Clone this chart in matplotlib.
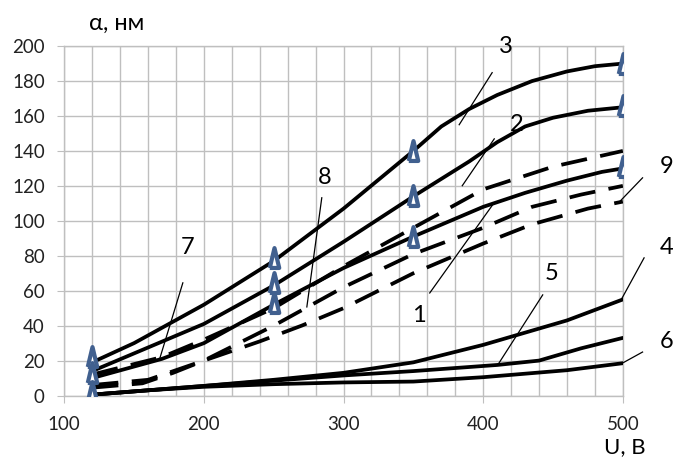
import numpy as np
import matplotlib
matplotlib.use('Agg')
import matplotlib.pyplot as plt
from matplotlib.ticker import MultipleLocator

plt.rcParams['font.family'] = ['Lato', 'Open Sans', 'DejaVu Sans']

# curves 1-3 (solid, with markers), 4-6 (solid, low), 7-9 (dashed)
x1 = [120, 170, 200, 250, 300, 350, 400, 430, 460, 485, 500]
y1 = [10, 21, 30, 52, 73, 91, 108, 116, 123, 128, 130]

x2 = [120, 200, 250, 300, 350, 390, 410, 430, 450, 475, 500]
y2 = [14, 41, 63, 88, 114, 134, 145, 154, 159, 163, 165]

x3 = [120, 150, 200, 250, 300, 350, 370, 390, 410, 435, 460, 480, 500]
y3 = [19, 30, 52, 77, 107, 140, 154, 164, 172, 180, 185.5, 188.5, 190]

x4 = [120, 160, 200, 250, 300, 350, 400, 430, 460, 480, 500]
y4 = [0.5, 3, 5.5, 9, 13, 19, 29, 36, 43, 49, 55]

x5 = [120, 160, 200, 250, 300, 350, 410, 440, 470, 500]
y5 = [0.5, 3, 5.5, 8.5, 11.5, 14, 17.5, 20, 27, 33]

x6 = [120, 160, 200, 250, 300, 350, 400, 460, 500]
y6 = [0.5, 3, 5, 6.5, 7.5, 8, 10.5, 14.5, 18.5]

x7 = [120, 170, 200, 250, 300, 350, 400, 450, 500]
y7 = [12, 22, 32, 50, 74, 96, 118, 131, 140]

x8 = [120, 160, 200, 250, 300, 350, 400, 435, 470, 500]
y8 = [6, 9, 20, 40, 62, 81, 96, 108, 115, 120]

x9 = [120, 156, 178, 200, 240, 270, 300, 350, 400, 435, 475, 500]
y9 = [4.5, 7, 13, 20, 31, 40, 50, 70, 87, 98, 107, 111]

# triangle markers
mx = [120, 250, 350, 500]
mA = [22, 79, 140, 190]
mB = [13, 64.5, 114, 166]
mC = [2, 53, 91, 131]

# curve labels: text, text pos, pointer start, pointer end
labels = ['1', '2', '3', '4', '5', '6', '7', '8', '9']
label_xy = [(354, 46), (424, 155), (416, 200), (531, 85), (449, 70),
            (531, 31), (188.5, 84.5), (286.5, 125), (531, 131)]
ptr_from = [(361.7, 58.7), (407.9, 146.9), (406.4, 184.8), (515.2, 78.8), (442.6, 57.6),
            (514.1, 24.9), (184.9, 64.5), (284.4, 113.2), (514.1, 124.6)]
ptr_to = [(406.8, 109.2), (385, 120.1), (382.8, 155), (498.7, 54.7), (410.4, 17.5),
          (499.8, 18.6), (168.5, 21.5), (273.7, 50.7), (497.6, 110.9)]

fig = plt.figure(figsize=(6.73, 4.61), dpi=100)
ax = fig.add_axes([0.0955, 0.142, 0.830, 0.758])

lw = 2.7
for xs, ys in [(x1, y1), (x2, y2), (x3, y3), (x4, y4), (x5, y5), (x6, y6)]:
    ax.plot(xs, ys, color='black', lw=lw, solid_capstyle='round',
            solid_joinstyle='round', zorder=3)
for xs, ys in [(x7, y7), (x8, y8), (x9, y9)]:
    ax.plot(xs, ys, color='black', lw=lw, dashes=(7, 3.6), zorder=3)

tri = [(-1, -2), (1, -2), (0, 2.2), (-1, -2)]
for ys in [mA, mB, mC]:
    ax.plot(mx, ys, ls='none', marker=tri, markersize=15, markerfacecolor='white',
            markeredgecolor='#41608f', markeredgewidth=3, zorder=4)

for lab, (tx, ty), p0, p1 in zip(labels, label_xy, ptr_from, ptr_to):
    ax.text(tx, ty, lab, fontsize=17, ha='center', va='center', clip_on=False)
    ax.plot([p0[0], p1[0]], [p0[1], p1[1]], color='black', lw=0.9, clip_on=False, zorder=5)

ax.set_xlim(100, 500)
ax.set_ylim(0, 200)
ax.xaxis.set_major_locator(MultipleLocator(100))
ax.xaxis.set_minor_locator(MultipleLocator(20))
ax.yaxis.set_major_locator(MultipleLocator(20))
ax.grid(True, which='both', color='#bfbfbf', lw=1.0, zorder=0)
ax.set_axisbelow(True)
for s in ax.spines.values():
    s.set_color('#bfbfbf')
    s.set_linewidth(1.0)
ax.tick_params(axis='both', which='major', length=5, color='#bfbfbf', labelsize=13.5,
               labelcolor='#222222')
ax.tick_params(axis='y', pad=9)
ax.tick_params(axis='x', pad=10)
ax.tick_params(axis='x', which='minor', length=0)

fig.text(0.132, 0.950, 'α, нм', fontsize=17, ha='left', va='center')
fig.text(0.928, 0.030, 'U, В', fontsize=16, ha='center', va='center')

fig.savefig('out.png', dpi=100)
